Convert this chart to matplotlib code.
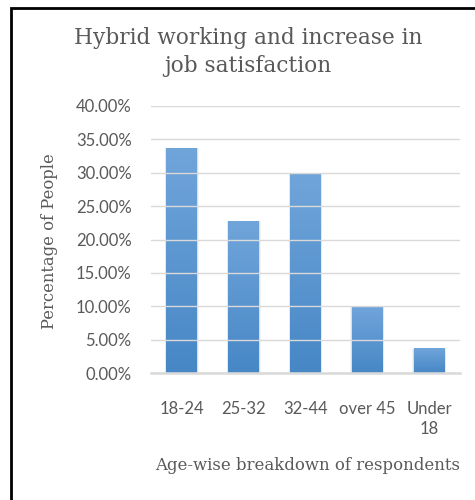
import matplotlib
matplotlib.use("Agg")
import matplotlib.pyplot as plt
import numpy as np
from matplotlib.patches import Rectangle
from matplotlib.ticker import PercentFormatter
from matplotlib.colors import LinearSegmentedColormap

categories = ["18-24", "25-32", "32-44", "over 45", "Under\n18"]
values = [33.7, 22.7, 29.9, 9.9, 3.6]
y_ticks = [0, 5, 10, 15, 20, 25, 30, 35, 40]

title = "Hybrid working and increase in\njob satisfaction"
x_label = "Age-wise breakdown of respondents"
y_label = "Percentage of People"

TEXT = "#595959"
SERIF = ["DejaVu Serif"]
SANS = ["Lato", "DejaVu Sans"]

fig = plt.figure(figsize=(4.75, 5.0), dpi=100)
ax = fig.add_axes([151 / 475, 1 - 373 / 500, 309 / 475, 267 / 500])

x = np.arange(len(categories))
width = 0.5
bars = ax.bar(x, values, width=width, color="none", edgecolor="none", zorder=2)

# vertical gradient fill for each bar, plus a soft side shadow
grad = LinearSegmentedColormap.from_list("g", ["#4787c6", "#70a5da"])
gimg = np.linspace(0, 1, 256).reshape(-1, 1)
for b in bars:
    x0, w, h = b.get_x(), b.get_width(), b.get_height()
    for i in range(3):
        d = 0.008 * (i + 1)
        ax.add_patch(Rectangle((x0 - d, 0), w + 2 * d, h, facecolor="#7f7f7f",
                               alpha=0.09, edgecolor="none", zorder=1))
    ax.imshow(gimg, cmap=grad, origin="lower", aspect="auto",
              extent=(x0, x0 + w, 0, h), zorder=2)

ax.set_xlim(-0.5, len(categories) - 0.5)
ax.set_ylim(0, 40)
ax.set_yticks(y_ticks)
ax.yaxis.set_major_formatter(PercentFormatter(decimals=2))
ax.set_xticks(x)
ax.set_xticklabels(categories, family=SANS, fontsize=12, color=TEXT, linespacing=1.3)
for lab in ax.get_yticklabels():
    lab.set_family(SANS)
    lab.set_fontsize(12)
    lab.set_color(TEXT)
ax.tick_params(axis="both", length=0)
ax.tick_params(axis="y", pad=14)
ax.tick_params(axis="x", pad=20)

ax.grid(axis="y", color="#d9d9d9", linewidth=1.0, zorder=3)
ax.set_axisbelow(False)
for s in ["left", "right", "top"]:
    ax.spines[s].set_visible(False)
ax.spines["bottom"].set_color("#d9d9d9")
ax.spines["bottom"].set_linewidth(1.8)
ax.spines["bottom"].set_zorder(4)

fig.text(248 / 475, 1 - 52 / 500, title, ha="center", va="center", family=SERIF,
         fontsize=15.6, color=TEXT, linespacing=1.3)
fig.text(50 / 475, 1 - 241 / 500, y_label, ha="center", va="center", rotation=90,
         family=SERIF, fontsize=11.8, color=TEXT)
fig.text(308 / 475, 1 - 466 / 500, x_label, ha="center", va="center", family=SERIF,
         fontsize=11.9, color=TEXT)

# chart frame (extends past right and bottom edges)
fig.patches.append(Rectangle((11 / 475, -0.5), 2.0, 1.5 - 8 / 500, transform=fig.transFigure,
                             facecolor="none", edgecolor="#000000", linewidth=2.0))

fig.savefig("out.png", dpi=100)
